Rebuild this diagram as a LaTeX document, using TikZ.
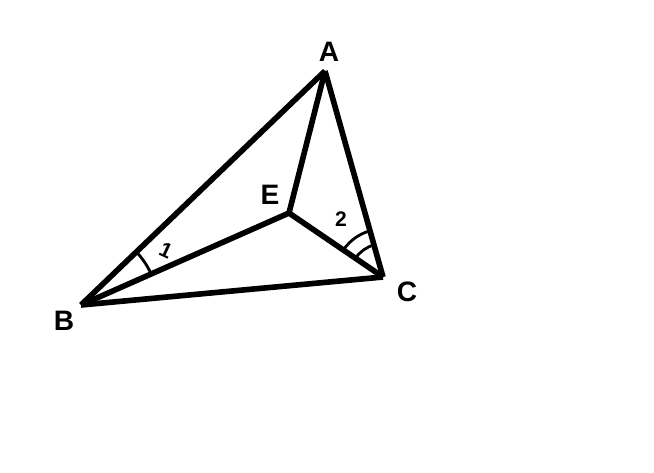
\documentclass[tikz,border=0pt]{standalone}
\usepackage{fontspec}
\setmainfont{Liberation Sans}
\usetikzlibrary{angles}

\begin{document}
\begin{tikzpicture}[x=0.03cm,y=0.03cm,line join=round,
    side/.style={line width=4.8pt},
    anglemark/.style={draw,line width=2.4pt},
    vlabel/.style={font=\fontsize{24}{28}\selectfont\bfseries},
    nlabel/.style={font=\fontsize{18}{21}\selectfont\bfseries}]
    \useasboundingbox (0,0) rectangle (654,-472);
    \coordinate (A) at (325,-71);
    \coordinate (B) at (81,-305);
    \coordinate (C) at (383,-277);
    \coordinate (E) at (289,-213);
    % vertex labels
    \node[vlabel] (la) at (329,-52) {A};
    \node[vlabel] (lb) at (64,-321) {B};
    \node[vlabel] (lc) at (407,-292) {C};
    \node[vlabel] (le) at (270,-195) {E};
    % triangle sides
    \draw[side] (A) -- (B);
    \draw[side] (B) -- (C);
    \draw[side] (C) -- (A);
    % lines to E
    \draw[side] (A) -- (E);
    \draw[side] (B) -- (E);
    \draw[side] (C) -- (E);
    % angle marks
    \pic[anglemark,angle radius=2.3cm] {angle = E--B--A};
    \pic[anglemark,angle radius=1.44cm] {angle = A--C--E};
    \pic[anglemark,angle radius=1.0cm] {angle = A--C--E};
    \node[nlabel,rotate=-25] (n1) at (166,-250) {1};
    \node[nlabel] (n2) at (341,-219) {2};
\end{tikzpicture}
\end{document}
